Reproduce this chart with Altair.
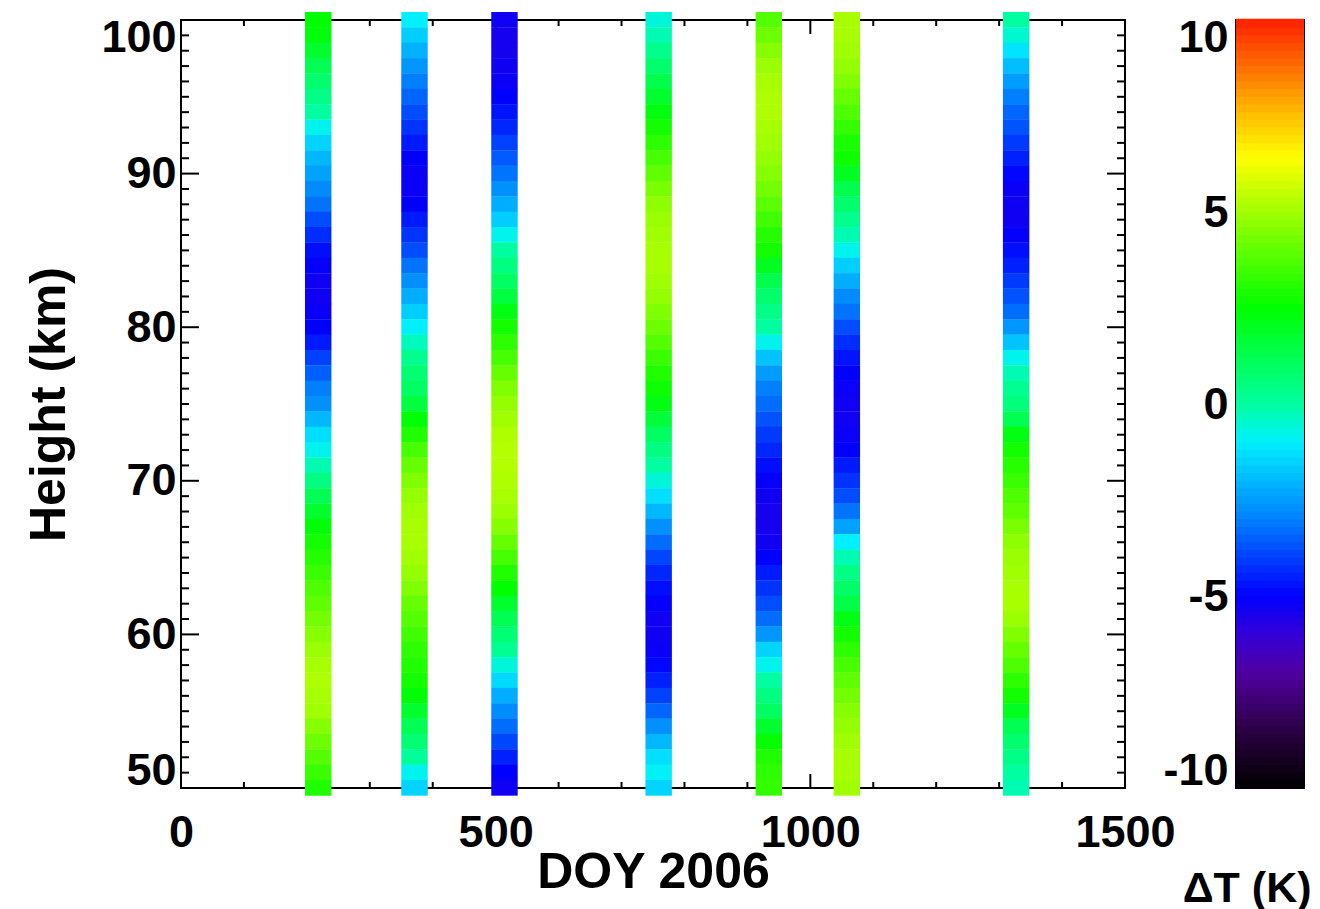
import altair as alt
import pandas as pd
import numpy as np

# ---------------- data ----------------
heights = list(range(100, 49, -1))          # km, top to bottom (51 levels)
doy = [218, 371, 514, 759, 934, 1058, 1327]  # bar centres (DOY 2006)
bar_days = 42                                # width of each profile (days)

dT_1 = [2.5, 2.3, 1.8, 1.2, 0.8, 0.4, 0.0, -0.8, -1.5, -2.0,
        -2.4, -2.8, -3.2, -3.8, -4.3, -4.8, -5.1, -5.3, -5.3, -5.2,
        -5.0, -4.6, -4.0, -3.5, -3.0, -2.7, -2.0, -1.3, -0.8, -0.2,
        0.5, 1.2, 1.8, 2.4, 2.8, 3.1, 3.4, 3.7, 4.0, 4.3,
        4.6, 4.9, 5.1, 5.2, 5.1, 5.0, 4.6, 4.2, 3.8, 3.4, 3.0]
dT_2 = [-1.0, -1.6, -2.1, -2.6, -3.0, -3.4, -3.8, -4.2, -4.6, -5.0,
        -5.2, -5.2, -5.0, -4.6, -4.2, -3.8, -3.2, -2.7, -2.2, -1.6,
        -1.0, -0.3, 0.3, 0.7, 1.0, 1.5, 2.4, 3.0, 3.6, 4.1,
        4.5, 4.8, 5.0, 5.1, 5.1, 5.0, 4.8, 4.5, 4.1, 3.8,
        3.5, 3.2, 3.0, 2.8, 2.4, 1.8, 1.2, 0.7, 0.1, -0.8, -1.5]
dT_3 = [-5.3, -5.4, -5.4, -5.3, -5.2, -5.0, -4.7, -4.4, -4.0, -3.6,
        -3.2, -2.7, -2.2, -1.6, -0.8, 0.0, 0.5, 1.0, 1.5, 2.2,
        2.8, 3.2, 3.6, 4.1, 4.5, 4.8, 5.0, 5.2, 5.3, 5.3,
        5.2, 5.1, 4.9, 4.6, 4.1, 3.6, 3.0, 2.5, 1.8, 1.2,
        0.7, 0.2, -0.6, -1.4, -2.2, -2.8, -3.3, -3.9, -4.5, -5.0, -5.3]
dT_4 = [-0.6, -0.2, 0.3, 0.8, 1.3, 1.8, 2.3, 2.8, 3.2, 3.6,
        4.0, 4.4, 4.7, 4.9, 5.0, 5.1, 5.1, 5.0, 4.8, 4.5,
        4.2, 3.8, 3.4, 3.0, 2.7, 2.2, 1.6, 1.0, 0.5, 0.0,
        -0.6, -1.3, -2.0, -2.7, -3.3, -3.9, -4.4, -4.8, -5.1, -5.3,
        -5.3, -5.2, -4.9, -4.5, -4.0, -3.4, -2.7, -2.0, -1.3, -0.9, -1.5]
dT_5 = [3.8, 4.2, 4.6, 4.9, 5.1, 5.2, 5.2, 5.1, 5.0, 4.8,
        4.6, 4.3, 3.9, 3.5, 3.1, 2.8, 2.0, 1.3, 0.8, 0.4,
        0.0, -0.8, -1.8, -2.5, -3.0, -3.3, -3.7, -4.1, -4.4, -4.8,
        -5.1, -5.3, -5.4, -5.4, -5.3, -5.0, -4.6, -4.2, -3.8, -3.3,
        -2.6, -1.5, -0.8, 0.0, 0.5, 1.0, 1.8, 2.6, 3.0, 3.2, 3.3]
dT_6 = [5.1, 5.1, 5.0, 4.8, 4.5, 4.1, 3.7, 3.3, 2.9, 2.7,
        2.0, 1.3, 0.8, 0.3, -0.2, -0.8, -1.6, -2.2, -2.8, -3.2,
        -3.8, -4.3, -4.7, -5.0, -5.2, -5.3, -5.3, -5.2, -5.0, -4.6,
        -4.2, -3.8, -3.2, -2.4, -1.0, -0.2, 0.4, 0.9, 1.4, 2.2,
        2.8, 3.2, 3.6, 4.0, 4.3, 4.6, 4.8, 5.0, 5.1, 5.1, 5.0]
dT_7 = [0.0, -0.5, -1.2, -1.9, -2.5, -3.0, -3.4, -3.7, -4.1, -4.5,
        -4.9, -5.2, -5.3, -5.3, -5.1, -4.8, -4.5, -4.1, -3.7, -3.3,
        -2.6, -1.8, -0.8, -0.2, 0.2, 0.6, 1.2, 2.2, 2.8, 3.1,
        3.4, 3.7, 4.0, 4.4, 4.7, 4.9, 5.0, 5.1, 5.1, 4.9,
        4.5, 4.1, 3.7, 3.2, 2.8, 2.0, 1.2, 0.8, 0.4, 0.0, -0.2]
profiles = [dT_1, dT_2, dT_3, dT_4, dT_5, dT_6, dT_7]

x_labels = [0, 500, 1000, 1500]
x_minor = [v for v in range(0, 1501, 100) if v not in x_labels]
y_labels = [50, 60, 70, 80, 90, 100]
y_minor = [v for v in range(50, 101) if v not in y_labels]
cb_labels = [-10, -5, 0, 5, 10]

# IDL-like rainbow colour table
c_stops = [-10, -8.5, -7, -6, -5, -4, -3, -2, -1, 0, 1, 2.5, 4, 5, 6.4, 7.5, 8.5, 10]
c_colors = ["#000000", "#2c0044", "#5000a0", "#3400d8", "#0000ff", "#0040ff",
            "#0080ff", "#00b8ff", "#00f0ff", "#00ffa0", "#00ff60", "#00ff00",
            "#60ff00", "#a0ff00", "#ffff00", "#ffc000", "#ff8000", "#ff2000"]

# ---------------- tables ----------------
rows = []
for c, vals in zip(doy, profiles):
    for h, v in zip(heights, vals):
        rows.append({"d0": c - bar_days / 2, "d1": c + bar_days / 2,
                     "h0": h - 0.5, "h1": h + 0.52, "dT": v})
df = pd.DataFrame(rows)

edges = np.linspace(-10, 10, 101)
cbdf = pd.DataFrame({"lo": edges[:-1], "hi": edges[1:] + 0.03,
                     "mid": (edges[:-1] + edges[1:]) / 2, "k": "cb"})

W, H = 944, 768
FONT = "Liberation Sans"
cscale = alt.Scale(domain=c_stops, range=c_colors, interpolate="rgb")
xscale = alt.Scale(domain=[0, 1500], nice=False, zero=False)
yscale = alt.Scale(domain=[50, 100], nice=False, zero=False)

x_axis = alt.Axis(title="DOY 2006", values=x_labels, ticks=False, tickSize=0,
                  domain=False, grid=False, labelPadding=22, titlePadding=-8,
                  titleFontSize=50, labelFlush=False,
                  labelExpr="'' + datum.value")
y_axis = alt.Axis(title="Height (km)", values=y_labels, ticks=False, tickSize=0,
                  domain=False, grid=False, labelPadding=5, titlePadding=26,
                  titleFontSize=50, labelFlush=True, labelFlushOffset=5,
                  labelExpr="'' + datum.value")

bars = alt.Chart(df).mark_rect().encode(
    x=alt.X("d0:Q", scale=xscale, axis=x_axis),
    x2="d1:Q",
    y=alt.Y("h0:Q", scale=yscale, axis=y_axis),
    y2="h1:Q",
    color=alt.Color("dT:Q", scale=cscale, legend=None),
)


def xticks(vals, length, bottom):
    return alt.Chart(pd.DataFrame({"t": vals})).mark_rule(color="black", strokeWidth=2).encode(
        x=alt.X("t:Q", scale=xscale, axis=x_axis),
        y=alt.value(H if bottom else 0),
        y2=alt.value(H - length if bottom else length),
    )


def yticks(vals, length, left):
    return alt.Chart(pd.DataFrame({"t": vals})).mark_rule(color="black", strokeWidth=2).encode(
        y=alt.Y("t:Q", scale=yscale, axis=y_axis),
        x=alt.value(0 if left else W),
        x2=alt.value(length if left else W - length),
    )


tick_layers = [
    xticks(x_labels, 14, True), xticks(x_minor, 6, True),
    xticks(x_labels, 14, False), xticks(x_minor, 6, False),
    yticks(y_labels, 18, True), yticks(y_minor, 8, True),
    yticks(y_labels, 18, False), yticks(y_minor, 8, False),
]

main = alt.layer(*tick_layers, bars).properties(width=W, height=H)

cbar = alt.Chart(cbdf).mark_rect().encode(
    x=alt.X("k:N", scale=alt.Scale(paddingInner=0, paddingOuter=0),
            axis=alt.Axis(title="ΔT (K)", labels=False, ticks=False, domain=False,
                          titlePadding=79, titleFontSize=43, titleX=75,
                          titleAlign="right")),
    y=alt.Y("lo:Q", scale=alt.Scale(domain=[-10, 10], nice=False, zero=False),
            axis=alt.Axis(title=None, values=cb_labels, ticks=False, tickSize=0,
                          domain=False, grid=False, labelPadding=8,
                          labelFlush=True, labelFlushOffset=5,
                          labelExpr="'' + datum.value")),
    y2="hi:Q",
    color=alt.Color("mid:Q", scale=cscale, legend=None),
).properties(width=68, height=H)

chart = alt.hconcat(main, cbar, spacing=-16).properties(
    padding={"left": 15, "top": 3, "right": 0, "bottom": 0}
).configure_view(
    stroke="black", strokeWidth=2
).configure_axis(
    labelFont=FONT, labelFontSize=45, labelFontWeight="bold", labelColor="black",
    titleFont=FONT, titleFontSize=46, titleFontWeight="bold", titleColor="black",
)

chart.save("out.html", embed_options={"renderer": "svg", "actions": False})
